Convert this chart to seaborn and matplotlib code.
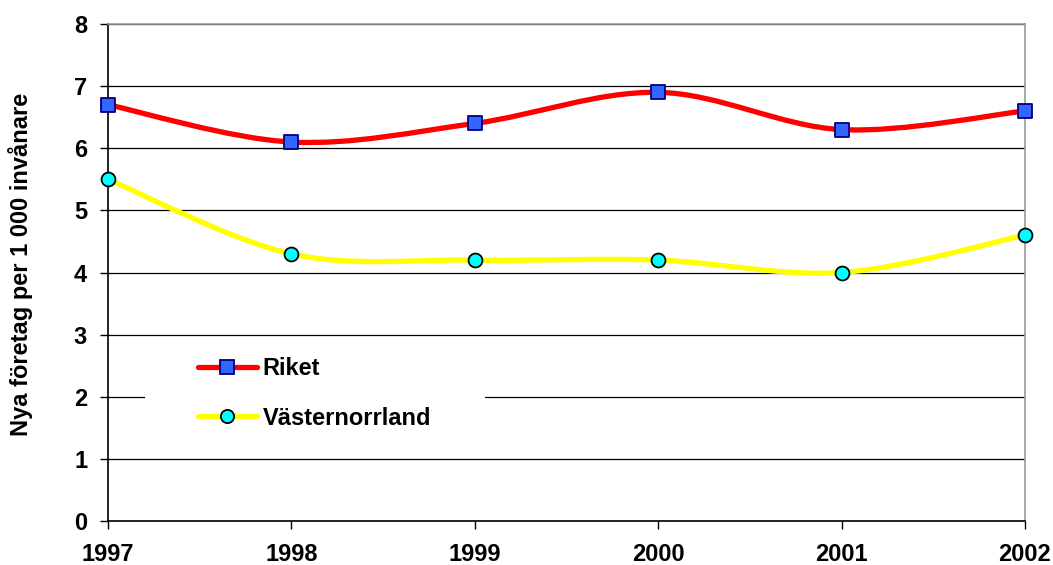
import numpy as np
import matplotlib
matplotlib.use("Agg")
import matplotlib.pyplot as plt
from matplotlib.path import Path
from matplotlib.patches import PathPatch, Rectangle
from matplotlib.lines import Line2D
import seaborn as sns
import pandas as pd

years = [1997, 1998, 1999, 2000, 2001, 2002]
riket = [6.7, 6.1, 6.4, 6.9, 6.3, 6.6]
vasternorrland = [5.5, 4.3, 4.2, 4.2, 4.0, 4.6]
series_names = ["Riket", "Västernorrland"]
y_ticks = [0, 1, 2, 3, 4, 5, 6, 7, 8]
y_label = "Nya företag per 1 000 invånare"

sns.set_theme(style="white")
plt.rcParams['font.family'] = ['Liberation Sans', 'DejaVu Sans']
plt.rcParams.update({"text.color": "black", "axes.labelcolor": "black",
                     "xtick.color": "black", "ytick.color": "black"})

fig = plt.figure(figsize=(10.53, 5.65), dpi=100)
ax = fig.add_axes([108/1053, 1-521/565, (1025-108)/1053, (521-24)/565])


def smooth_path(xs, ys):
    # Excel-like smoothed line: Catmull-Rom converted to cubic Bezier
    xs = np.asarray(xs, float)
    ys = np.asarray(ys, float)
    n = len(xs)
    verts = [(xs[0], ys[0])]
    codes = [Path.MOVETO]
    for i in range(n - 1):
        i0 = max(i - 1, 0)
        i3 = min(i + 2, n - 1)
        c1 = (xs[i] + (xs[i + 1] - xs[i0]) / 6, ys[i] + (ys[i + 1] - ys[i0]) / 6)
        c2 = (xs[i + 1] - (xs[i3] - xs[i]) / 6, ys[i + 1] - (ys[i3] - ys[i]) / 6)
        verts += [c1, c2, (xs[i + 1], ys[i + 1])]
        codes += [Path.CURVE4] * 3
    return Path(verts, codes)


line_colors = ["#FF0000", "#FFFF00"]
marker_face = ["#3366FF", "#00FFFF"]
marker_edge = ["#000080", "#000000"]
markers = ["s", "o"]

for k, vals in enumerate([riket, vasternorrland]):
    p = smooth_path(years, vals)
    ax.add_patch(PathPatch(p, facecolor="none", edgecolor=line_colors[k],
                           lw=3.8, capstyle="round", joinstyle="round", zorder=3))

df = pd.DataFrame({
    "year": years * 2,
    "value": riket + vasternorrland,
    "series": [series_names[0]] * len(years) + [series_names[1]] * len(years),
})
for k, name in enumerate(series_names):
    sub = df[df["series"] == name]
    sns.scatterplot(data=sub, x="year", y="value", ax=ax, marker=markers[k],
                    s=100, color=marker_face[k], edgecolor=marker_edge[k],
                    linewidth=1.3, zorder=4, legend=False, clip_on=False)

ax.set_xlim(1997, 2002)
ax.set_ylim(0, 8)
ax.set_xticks(years)
ax.set_xticklabels([str(y) for y in years], fontsize=17, fontweight="bold")
ax.set_yticks(y_ticks)
ax.set_yticklabels([str(v) for v in y_ticks], fontsize=17, fontweight="bold")
ax.tick_params(axis="both", direction="out", length=6, width=1, color="black",
               bottom=True, left=True)
ax.tick_params(axis="x", pad=10)
ax.tick_params(axis="y", pad=9)
ax.set_xlabel("")
ax.set_ylabel(y_label, fontsize=17, fontweight="bold")
ax.yaxis.set_label_coords(-0.082, 0.517)
ax.grid(axis="y", color="black", lw=0.9)
ax.grid(axis="x", visible=False)
ax.set_axisbelow(True)
for s in ["left", "bottom"]:
    ax.spines[s].set_color("black")
    ax.spines[s].set_linewidth(1.2)
for s in ["top", "right"]:
    ax.spines[s].set_color("#999999")
    ax.spines[s].set_linewidth(1.2)

# white legend background (covers gridline like the original)
ax.add_patch(Rectangle((0.0403, 0.153), 0.371, 0.201, transform=ax.transAxes,
                       facecolor="white", edgecolor="none", zorder=2.5))

handles = [
    Line2D([], [], color=line_colors[k], lw=3.8, marker=markers[k], markersize=9.5,
           markerfacecolor=marker_face[k], markeredgecolor=marker_edge[k],
           markeredgewidth=1.3, solid_capstyle="round")
    for k in range(2)
]
leg = ax.legend(handles, series_names, loc="center left",
                bbox_to_anchor=(0.098, 0.2566), frameon=False,
                prop={"size": 17, "weight": "bold"}, handlelength=2.5,
                labelspacing=1.12, borderpad=0, borderaxespad=0,
                handletextpad=0.25)
leg.set_zorder(5)

fig.savefig("out.png", dpi=100)
